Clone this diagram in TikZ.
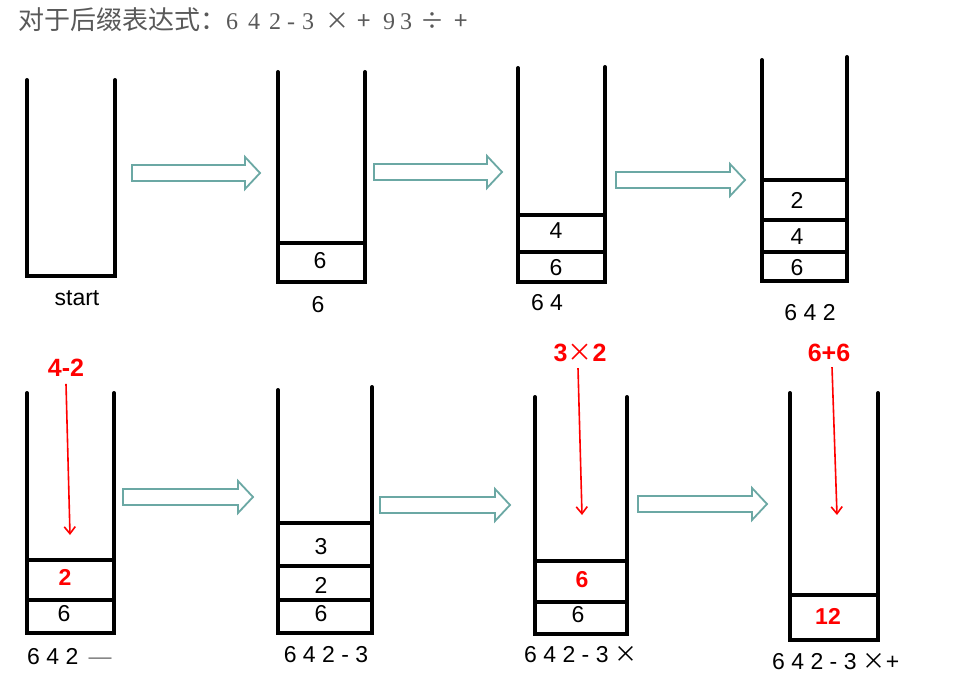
\documentclass[tikz,border=0pt]{standalone}
\usepackage{fontspec}
\setmainfont{Liberation Sans}
\newfontfamily\cjk{Noto Sans CJK SC}
\newfontfamily\serifdig{Liberation Serif}
\usetikzlibrary{arrows.meta}
\definecolor{teal1}{HTML}{6BA8A4}
\definecolor{titlegray}{HTML}{595959}
\newcommand\hollowarrow[3]{%
  \draw[teal1,line width=1.8pt,fill=white] (#1,#3-8)--(#2-15,#3-8)--(#2-15,#3-16)--(#2,#3)--(#2-15,#3+16)--(#2-15,#3+8)--(#1,#3+8)--cycle;}
\newcommand\mul{{\cjk\mdseries ×}}
\begin{document}
\begin{tikzpicture}[x=1pt,y=-1pt,
  stackline/.style={line width=4pt,line cap=round,line join=miter},
  cellline/.style={line width=3.5pt},
  num/.style={font=\fontsize{23}{25}\selectfont,inner sep=0pt},
  rnum/.style={font=\fontsize{23}{25}\selectfont\bfseries,text=red,inner sep=0pt},
  rlab/.style={font=\fontsize{25}{27}\selectfont\bfseries,text=red,inner sep=0pt},
  lab/.style={font=\fontsize{23}{25}\selectfont,inner sep=0pt},
  titlech/.style={text=titlegray,inner sep=0pt,anchor=base,font=\serifdig\fontsize{24}{26}\selectfont},
  titlesym/.style={titlech,font=\cjk\fontsize{24}{26}\selectfont},
  redarrow/.style={red,line width=1.6pt,-{Straight Barb[length=7pt,width=11pt,line width=1.6pt]}}]
\useasboundingbox (0,0) rectangle (963,674);
\fill[white] (0,0) rectangle (963,674);
% title
\node[anchor=base west,inner sep=0pt,text=titlegray,font=\cjk\fontsize{26}{28}\selectfont] (title) at (18,30) {对于后缀表达式：};
\foreach \x/\s [count=\i] in {232/6,254/4,275/2,291/-,308/3,389/9,406/3}
  \node[titlech] (tt\i) at (\x,30) {\s};
\node[titlesym] (tm1) at (337,30) {×};
\node[titlesym] (tm2) at (364,30) {+};
\node[titlesym] (tm3) at (432,30) {÷};
\node[titlesym] (tm4) at (461,30) {+};
% stack 1
\draw[stackline] (27,80)--(27,276)--(115,276)--(115,80);
\node[lab] (l1) at (77,298) {start};
% stack 2
\draw[stackline] (278,72)--(278,282)--(365,282)--(365,72);
\draw[cellline] (278,243)--(365,243);
\node[num] (c21) at (320,261) {6};
\node[lab] (l2) at (318,305) {6};
% stack 3
\draw[stackline] (518,68)--(518,282)--(605,282)--(605,67);
\draw[cellline] (518,215)--(605,215) (518,252)--(605,252);
\node[num] (c32) at (556,231) {4};
\node[num] (c31) at (556,268) {6};
\node[lab] (l3) at (547,303) {6 4};
% stack 4
\draw[stackline] (762,60)--(762,281)--(847,281)--(847,57);
\draw[cellline] (762,180)--(847,180) (762,220)--(847,220) (762,252)--(847,252);
\node[num] (c43) at (797,200) {2};
\node[num] (c42) at (797,237) {4};
\node[num] (c41) at (797,268) {6};
\node[lab] (l4) at (810,313) {6 4 2};
% arrows row 1
\hollowarrow{132}{260}{173}
\hollowarrow{374}{502}{172}
\hollowarrow{616}{745}{180}
% stack 5
\draw[stackline] (27,393)--(27,633)--(114,633)--(114,393);
\draw[cellline] (27,560)--(114,560) (27,600)--(114,600);
\node[rnum] (c52) at (65,577) {2};
\node[num] (c51) at (64,614) {6};
\node[lab,anchor=west] (l5) at (27,657) {6 4 2 \,{\color{gray}—}};
\node[rlab] (r5) at (66,368) {4-2};
\coordinate (e5) at (70,535);
\draw[redarrow] (r5.south)++(0,7) -- (e5);
% stack 6
\draw[stackline] (278,390)--(278,633)--(372,633)--(372,387);
\draw[cellline] (278,523)--(372,523) (278,566)--(372,566) (278,600)--(372,600);
\node[num] (c63) at (321,547) {3};
\node[num] (c62) at (321,585) {2};
\node[num] (c61) at (321,614) {6};
\node[lab] (l6) at (326,655) {6 4 2 - 3};
% stack 7
\draw[stackline] (535,397)--(535,634)--(627,634)--(627,397);
\draw[cellline] (535,561)--(627,561) (535,602)--(627,602);
\node[rnum] (c72) at (582,580) {6};
\node[num] (c71) at (578,615) {6};
\node[lab,anchor=west] (l7) at (524,655) {6 4 2 - 3 \mul};
\node[rlab] (r7) at (580,353) {3\mul 2};
\coordinate (e7) at (582,515);
\draw[redarrow] (r7.south)++(-2,6) -- (e7);
% stack 8
\draw[stackline] (790,393)--(790,640)--(878,640)--(878,393);
\draw[cellline] (790,595)--(878,595);
\node[rnum] (c81) at (828,616) {12};
\node[lab,anchor=west] (l8) at (772,662) {6 4 2 - 3 \mul+};
\node[rlab] (r8) at (829,353) {6+6};
\coordinate (e8) at (837,515);
\draw[redarrow] (r8.south)++(3,5) -- (e8);
% arrows row 2
\hollowarrow{123}{253}{497}
\hollowarrow{380}{510}{505}
\hollowarrow{638}{767}{504}
\end{tikzpicture}
\end{document}
